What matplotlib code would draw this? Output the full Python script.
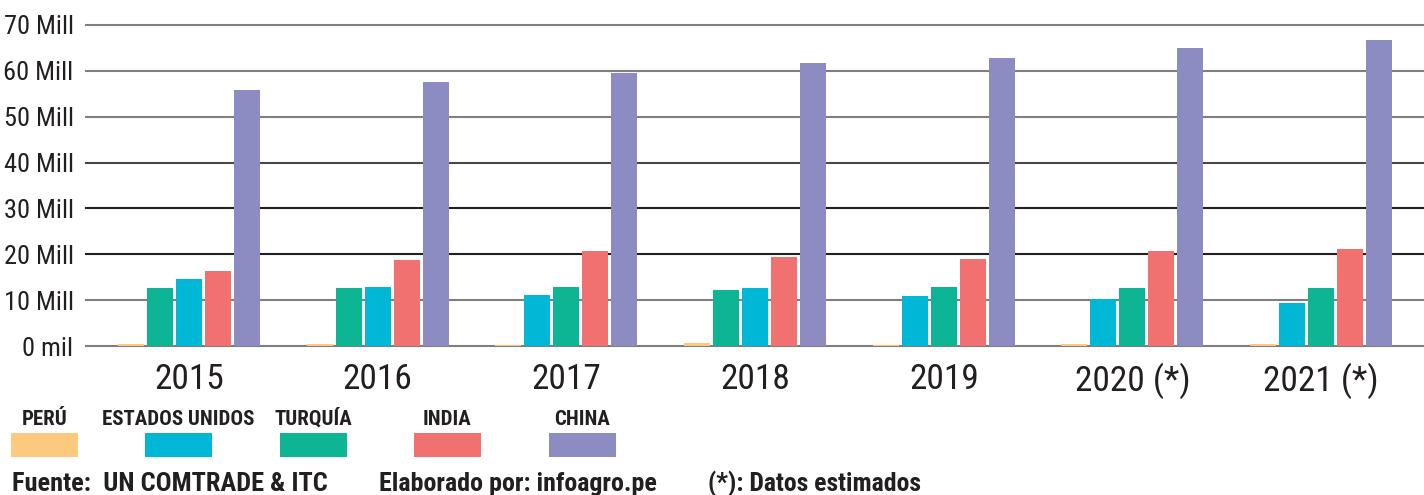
import matplotlib
matplotlib.use("Agg")
import matplotlib.pyplot as plt
from matplotlib.patches import Rectangle
import numpy as np

plt.rcParams['font.family'] = ['Roboto Condensed', 'Archivo Narrow', 'Liberation Sans', 'DejaVu Sans']

years = ['2015', '2016', '2017', '2018', '2019', '2020 (*)', '2021 (*)']
series_names = ['PERÚ', 'ESTADOS UNIDOS', 'TURQUÍA', 'INDIA', 'CHINA']
peru = [0.35, 0.35, 0.25, 0.6, 0.25, 0.35, 0.35]
eeuu = [14.6, 12.9, 11.1, 12.65, 10.9, 10.25, 9.4]
turquia = [12.65, 12.65, 12.87, 12.2, 12.87, 12.65, 12.65]
india = [16.35, 18.75, 20.7, 19.4, 19.0, 20.7, 21.15]
china = [55.8, 57.6, 59.5, 61.7, 62.8, 65.0, 66.7]
yticks = [0, 10, 20, 30, 40, 50, 60, 70]
ytick_labels = ['0 mil', '10 Mill', '20 Mill', '30 Mill', '40 Mill', '50 Mill', '60 Mill', '70 Mill']

colors = ['#FCC97E', '#00B7D5', '#0DB594', '#F17070', '#8C8BC2']
grid_colors = ['#7f7f7f', '#7f7f7f', '#231f20', '#231f20', '#4a4647', '#7f7f7f', '#7f7f7f', '#7f7f7f']
txt = '#231F20'

data = np.array([peru, eeuu, turquia, india, china])  # series x years

fig = plt.figure(figsize=(14.24, 4.95), dpi=100)
ax = fig.add_axes([86/1424, 1 - 346/495, 1 - 86/1424, (346 - 25)/495])

x = np.arange(len(years))
step = 0.1537
width = 0.138
for j in range(len(years)):
    order = np.argsort(data[:, j], kind='stable')
    for rank, s in enumerate(order):
        ax.bar(x[j] + (rank - 2) * step, data[s, j], width=width,
               color=colors[s], zorder=3, linewidth=0)

for yv, gc in zip(yticks, grid_colors):
    ax.axhline(yv, color=gc, linewidth=1.5, zorder=1, clip_on=False)

ax.set_ylim(0, 70)
ax.set_xlim(-0.546, 6.545)
ax.set_yticks(yticks)
ax.set_yticklabels(ytick_labels, fontsize=19, color=txt)
ax.set_xticks(x)
ax.set_xticklabels(years, fontsize=25.5, color=txt)
ax.tick_params(axis='y', length=0, pad=9)
ax.tick_params(axis='x', length=0, pad=12)
for sp in ax.spines.values():
    sp.set_visible(False)

# legend: labels above colour boxes
W, H = 1424, 495
patch_x = [11, 145, 280, 414, 549]
for px, name, c in zip(patch_x, series_names, colors):
    fig.add_artist(Rectangle((px / W, 1 - 457 / H), 67 / W, 24 / H,
                             transform=fig.transFigure, color=c, linewidth=0))
    fig.text((px + 33.5) / W, 1 - 425 / H, name, ha='center', va='baseline',
             fontsize=15, fontweight='bold', color=txt)

fig.text(12 / W, 1 - 491 / H, 'Fuente:  UN COMTRADE & ITC', ha='left', va='baseline',
         fontsize=19, fontweight='bold', color=txt)
fig.text(379 / W, 1 - 491 / H, 'Elaborado por: infoagro.pe', ha='left', va='baseline',
         fontsize=18.7, fontweight='bold', color=txt)
fig.text(708 / W, 1 - 491 / H, '(*): Datos estimados', ha='left', va='baseline',
         fontsize=18.5, fontweight='bold', color=txt)

fig.savefig('out.png', dpi=100)
